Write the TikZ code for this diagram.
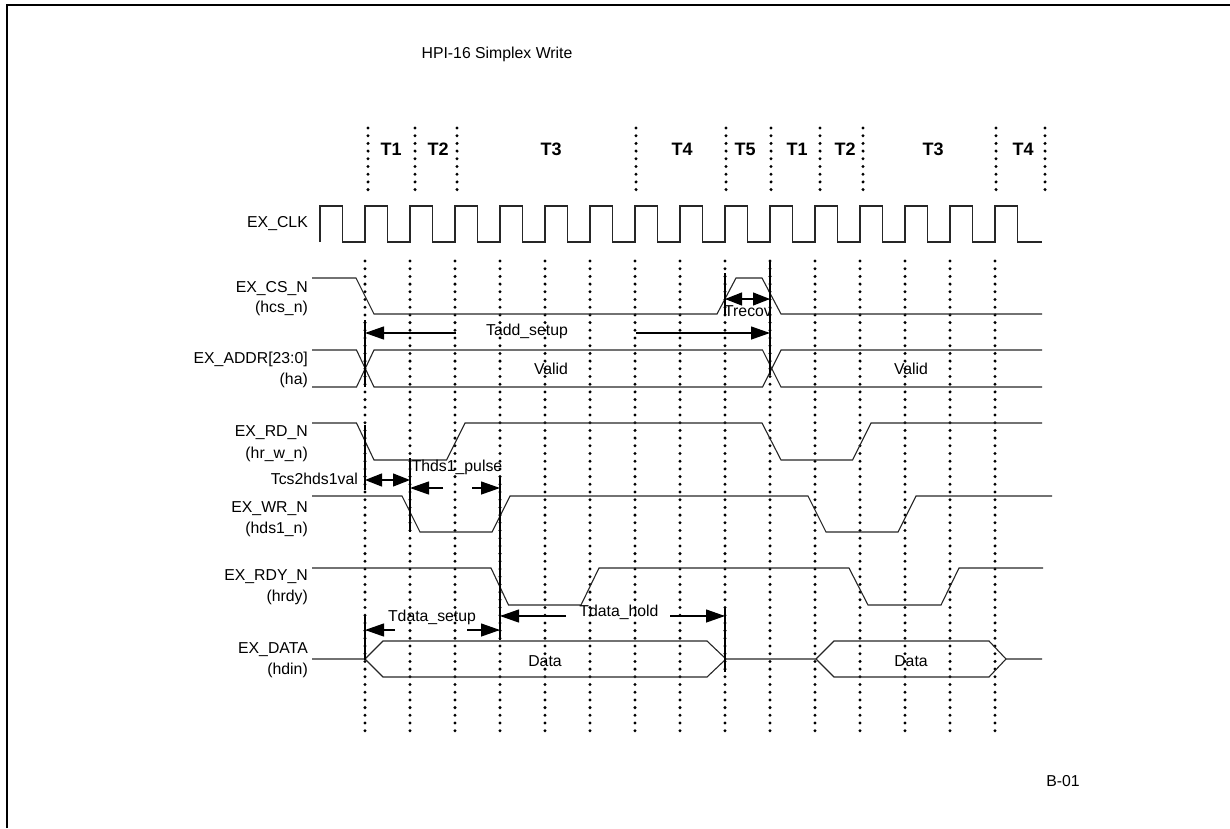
\documentclass[tikz,border=0pt]{standalone}
\usepackage{fontspec}
\setmainfont{Liberation Sans}
\usetikzlibrary{arrows.meta}
\begin{document}
\begin{tikzpicture}[x=1pt,y=-1pt,
  sig/.style={line width=1.1pt,draw=black!85,line join=miter},
  dotline/.style={line width=3.3pt,dash pattern=on 0pt off 7.7pt,line cap=round},
  marker/.style={line width=1.2pt},
  dimarrow/.style={line width=1.2pt,-{Triangle[length=19pt,width=13pt]}},
  dimboth/.style={line width=1.2pt,{Triangle[length=17pt,width=13pt]}-{Triangle[length=17pt,width=13pt]}},
  lbl/.style={font=\fontsize{15.8}{18}\selectfont,inner sep=0pt},
  tlbl/.style={font=\fontsize{18}{20}\selectfont\bfseries,inner sep=0pt},
  sname/.style={lbl,anchor=east},
]
\useasboundingbox (0,0) rectangle (1230,828);
% frame
\draw[line width=2pt] (7.3,828) -- (7.3,4.5) -- (1230,4.5);
\node[lbl] (title) at (497,54) {HPI-16 Simplex Write};
\node[lbl] (bref) at (1063,781) {B-01};
% top dotted period boundaries
\foreach \x in {368,415,457,636,726,771,820,863,996,1045}
  \draw[dotline] (\x,128) -- (\x,191);
\node[tlbl] (ta1) at (391,149) {T1};
\node[tlbl] (ta2) at (438,149) {T2};
\node[tlbl] (ta3) at (551,149) {T3};
\node[tlbl] (ta4) at (682,149) {T4};
\node[tlbl] (ta5) at (745,149) {T5};
\node[tlbl] (tb1) at (797,149) {T1};
\node[tlbl] (tb2) at (845,149) {T2};
\node[tlbl] (tb3) at (933,149) {T3};
\node[tlbl] (tb4) at (1023,149) {T4};
% clock
\node[sname] (clk) at (308,224) {EX\_CLK};
\draw[sig,line width=1.3pt] (320,242) \foreach \k in {0,...,15}{ -- ++(0,-36) -- ++(22.5,0) -- ++(0,36) -- ++(22.5,0)} -- (1042,242);
% lower dotted lines
\foreach \k in {0,...,14}
  \draw[dotline] (365+45*\k,261) -- (365+45*\k,738);
% signal names
\node[sname] (cs1) at (308,289) {EX\_CS\_N};
\node[sname] (cs2) at (308,308) {(hcs\_n)};
\node[sname] (ad1) at (308,359) {EX\_ADDR[23:0]};
\node[sname] (ad2) at (308,380) {(ha)};
\node[sname] (rd1) at (308,433) {EX\_RD\_N};
\node[sname] (rd2) at (308,454) {(hr\_w\_n)};
\node[sname] (wr1) at (308,509) {EX\_WR\_N};
\node[sname] (wr2) at (308,529) {(hds1\_n)};
\node[sname] (ry1) at (308,577) {EX\_RDY\_N};
\node[sname] (ry2) at (308,597) {(hrdy)};
\node[sname] (da1) at (308,650) {EX\_DATA};
\node[sname] (da2) at (308,670) {(hdin)};
% EX_CS_N
\draw[sig] (312,278) -- (356,278) -- (374,314) -- (717,314) -- (736,278) -- (762,278) -- (781,314) -- (1042,314);
% EX_ADDR
\draw[sig] (312,350) -- (356.5,350) -- (374,387) -- (762.5,387) -- (781,350) -- (1042,350);
\draw[sig] (312,387) -- (356.5,387) -- (374,350) -- (762.5,350) -- (781,387) -- (1042,387);
\node[lbl] (valid1) at (551,369) {Valid};
\node[lbl] (valid2) at (911,369) {Valid};
% EX_RD_N
\draw[sig] (312,423) -- (356.5,423) -- (374,460) -- (446.5,460) -- (465,423) -- (762,423) -- (781,460) -- (852.5,460) -- (871,423) -- (1042,423);
% EX_WR_N
\draw[sig] (312,496) -- (402,496) -- (420,532) -- (492,532) -- (510,496) -- (808,496) -- (826,532) -- (898,532) -- (916,496) -- (1052,496);
% EX_RDY_N
\draw[sig] (312,568) -- (491,568) -- (508.5,605) -- (581,605) -- (599,568) -- (849,568) -- (868,605) -- (941,605) -- (959,568) -- (1043,568);
% EX_DATA
\draw[sig] (312,659) -- (365,659) -- (383,641) -- (707,641) -- (726,659) -- (816,659) -- (834,641) -- (989,641) -- (1006,659) -- (1042,659);
\draw[sig] (365,659) -- (383,677) -- (707,677) -- (726,659);
\draw[sig] (816,659) -- (834,677) -- (989,677) -- (1006,659);
\node[lbl] (data1) at (545,661) {Data};
\node[lbl] (data2) at (911,661) {Data};
% timing markers
\draw[marker] (365,320) -- (365,387);
\draw[marker] (365,425) -- (365,490);
\draw[marker] (365,615) -- (365,660);
\draw[marker] (410,458) -- (410,532);
\draw[marker] (500,477) -- (500,640);
\draw[marker] (725,273) -- (725,315);
\draw[marker] (725,608) -- (725,672);
\draw[marker] (770,260) -- (770,375);
% Tadd_setup
\node[lbl] (tadd) at (527,331) {Tadd\_setup};
\coordinate (taddL0) at (456,333); \coordinate (taddL) at (365,333);
\coordinate (taddR0) at (636,333); \coordinate (taddR) at (770,333);
\draw[dimarrow] (taddL0) -- (taddL);
\draw[dimarrow] (taddR0) -- (taddR);
% Trecov
\coordinate (trecL) at (725,299); \coordinate (trecR) at (770,299);
\draw[dimboth] (trecL) -- (trecR);
\node[lbl] (trecov) at (748,311) {Trecov};
% Tcs2hds1val
\node[lbl,anchor=east] (tcs) at (358,479) {Tcs2hds1val};
\coordinate (tcsL) at (365,480); \coordinate (tcsR) at (410,480);
\draw[dimboth] (tcsL) -- (tcsR);
% Thds1_pulse
\node[lbl] (thds) at (457,467) {Thds1\_pulse};
\coordinate (thdsL0) at (443,488); \coordinate (thdsL) at (410,488);
\coordinate (thdsR0) at (472,488); \coordinate (thdsR) at (500,488);
\draw[dimarrow] (thdsL0) -- (thdsL);
\draw[dimarrow] (thdsR0) -- (thdsR);
% Tdata_setup
\node[lbl] (tds) at (432,617) {Tdata\_setup};
\coordinate (tdsL0) at (395,630); \coordinate (tdsL) at (365,630);
\coordinate (tdsR0) at (467,630); \coordinate (tdsR) at (500,630);
\draw[dimarrow] (tdsL0) -- (tdsL);
\draw[dimarrow] (tdsR0) -- (tdsR);
% Tdata_hold
\node[lbl] (tdh) at (619,612) {Tdata\_hold};
\coordinate (tdhL0) at (566,616); \coordinate (tdhL) at (500,616);
\coordinate (tdhR0) at (670,616); \coordinate (tdhR) at (725,616);
\draw[dimarrow] (tdhL0) -- (tdhL);
\draw[dimarrow] (tdhR0) -- (tdhR);
\end{tikzpicture}
\end{document}
